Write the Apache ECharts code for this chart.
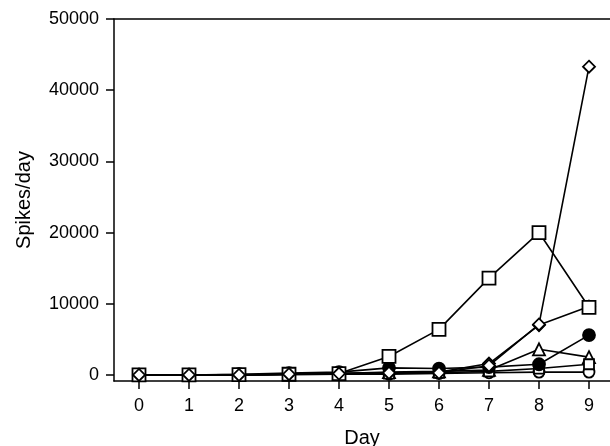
<!DOCTYPE html>
<html>
<head>
  <meta charset="UTF-8">
  <title>Spikes/day</title>
  <script src="https://cdn.jsdelivr.net/npm/echarts@6/dist/echarts.min.js"></script>
  <style>
    html, body { margin: 0; padding: 0; background: #fff; }
    #chart { width: 610px; height: 446px; }
  </style>
</head>
<body>
<div id="chart"></div>
<script>
  // days on the x axis
  var days = [0, 1, 2, 3, 4, 5, 6, 7, 8, 9];
  var yTicks = [0, 10000, 20000, 30000, 40000, 50000];

  // values (spikes/day)
  var openSquare  = [0, 0, 50, 100, 200, 2600, 6400, 13600, 20000, 9500];
  var openDiamond = [0, 0, 0, 100, 200, 300, 300, 1300, 7100, 43300];
  var diamond2    = [0, 0, 0, 100, 200, 300, 400, 1600, 7000, 9600];
  var filledCircle = [0, 0, 100, 250, 400, 1000, 900, 1100, 1500, 5600];
  var openTriangle = [0, 0, 0, 100, 200, 400, 500, 700, 3600, 2500];
  var smallSquare = [0, 0, 0, 100, 200, 200, 300, 500, 900, 1500];
  var openCircle  = [0, 0, 0, 50, 100, 100, 200, 300, 400, 400];

  function pairs(vals) {
    return days.map(function (d, i) { return [d, vals[i]]; });
  }

  function mkSeries(vals, symbol, size, fill) {
    return {
      type: 'line',
      data: pairs(vals),
      symbol: symbol,
      symbolSize: size,
      showAllSymbol: true,
      clip: false,
      lineStyle: { color: '#000', width: 1.6 },
      itemStyle: { color: fill, borderColor: '#000', borderWidth: 1.8 },
      emphasis: { disabled: true },
      animation: false
    };
  }

  var chart = echarts.init(document.getElementById('chart'));
  var font = 'Liberation Sans';

  var option = {
    backgroundColor: '#fff',
    animation: false,
    grid: { left: 114, top: 19, right: 0, bottom: 65, outerBoundsMode: 'none', containLabel: false },
    xAxis: [
      {
        type: 'value',
        min: -0.5,
        max: 9.42,
        name: 'Day',
        nameLocation: 'middle',
        nameGap: 47,
        nameTextStyle: { color: '#000', fontSize: 20, fontFamily: font },
        axisLine: { show: true, onZero: false, lineStyle: { color: '#000', width: 1.5 } },
        axisTick: { show: true, length: 8, customValues: days, lineStyle: { color: '#000', width: 1.5 } },
        axisLabel: { customValues: days, margin: 16, color: '#000', fontSize: 18, fontFamily: font },
        splitLine: { show: false }
      },
      {
        type: 'value',
        position: 'top',
        min: -0.5,
        max: 9.42,
        axisLine: { show: true, onZero: false, lineStyle: { color: '#000', width: 1.5 } },
        axisTick: { show: false },
        axisLabel: { show: false },
        splitLine: { show: false }
      }
    ],
    yAxis: {
      type: 'value',
      min: -850,
      max: 50000,
      name: 'Spikes/day',
      nameLocation: 'middle',
      nameGap: 80,
      nameTextStyle: { color: '#000', fontSize: 20, fontFamily: font },
      axisLine: { show: true, onZero: false, lineStyle: { color: '#000', width: 1.5 } },
      axisTick: { show: true, length: 8, customValues: yTicks, lineStyle: { color: '#000', width: 1.5 } },
      axisLabel: {
        customValues: yTicks, margin: 15, color: '#000', fontSize: 18, fontFamily: font,
        formatter: function (v) { return String(v); }
      },
      splitLine: { show: false }
    },
    series: [
      mkSeries(openCircle, 'circle', 11, '#fff'),
      mkSeries(openTriangle, 'triangle', 12, '#fff'),
      mkSeries(smallSquare, 'rect', 10, '#fff'),
      mkSeries(filledCircle, 'circle', 12, '#000'),
      mkSeries(diamond2, 'diamond', 12, '#fff'),
      mkSeries(openSquare, 'rect', 13, '#fff'),
      mkSeries(openDiamond, 'diamond', 12, '#fff')
    ]
  };

  chart.setOption(option);
</script>
</body>
</html>
